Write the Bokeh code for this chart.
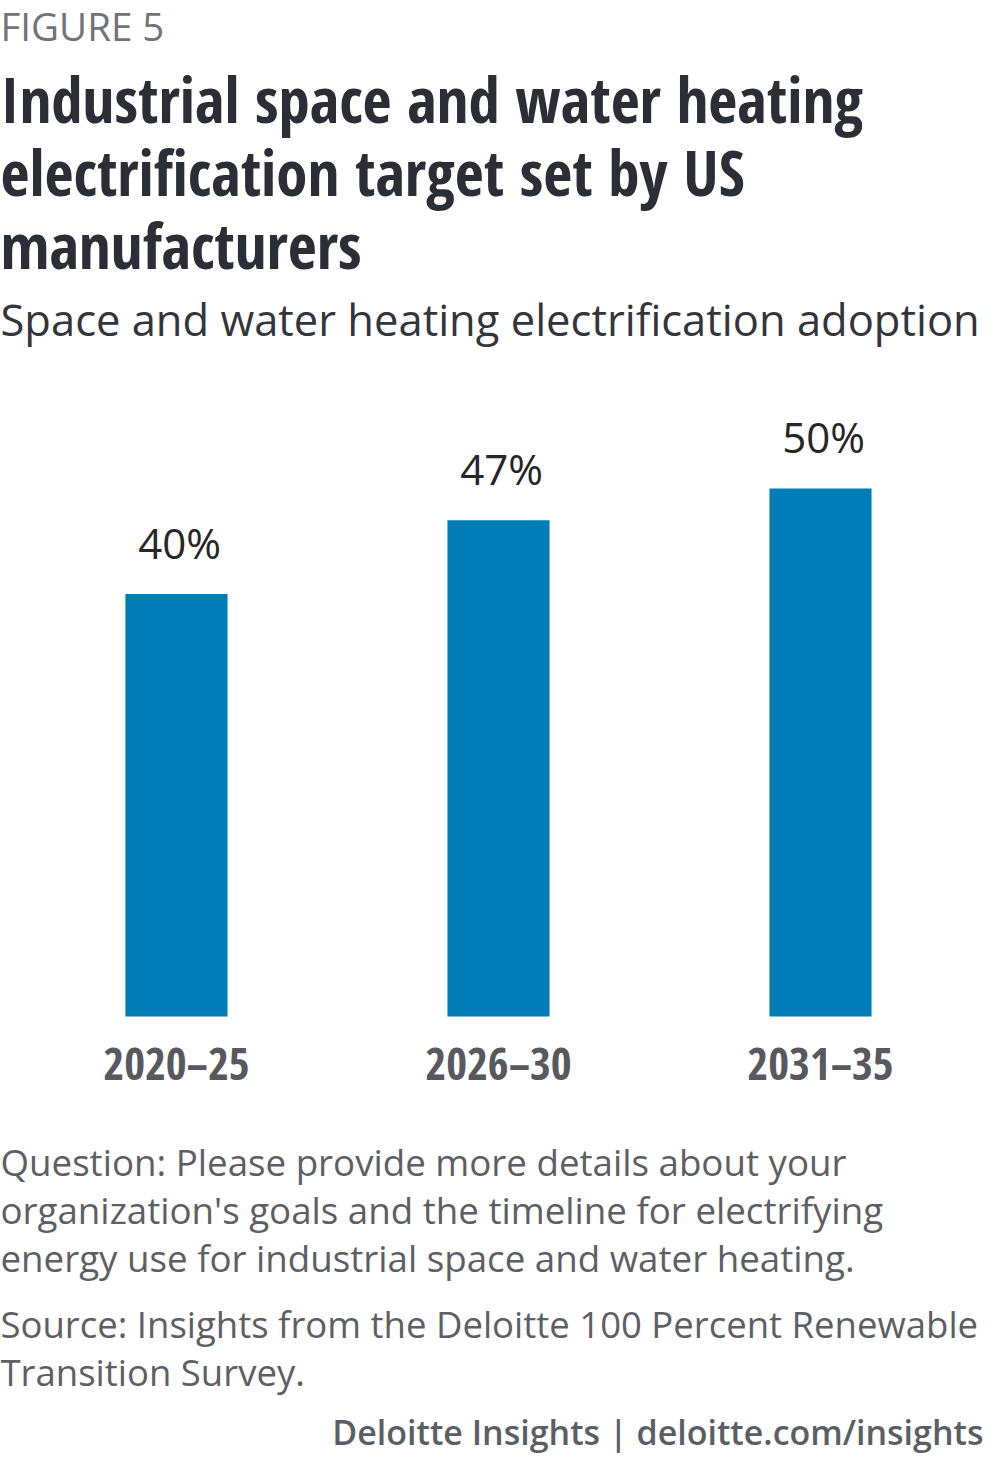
from bokeh.plotting import figure
from bokeh.models import Label, Range1d, FactorRange, ColumnDataSource
from bokeh.core.properties import value
from bokeh.transform import dodge
from bokeh.embed import file_html
from bokeh.resources import INLINE

# ---- data ----
categories = ["2020–25", "2026–30", "2031–35"]
adoption = [40, 47, 50]
value_labels = [f"{v}%" for v in adoption]

figure_label = "FIGURE 5"
title_lines = ["Industrial space and water heating",
               "electrification target set by US",
               "manufacturers"]
subtitle = "Space and water heating electrification adoption"
question_lines = ["Question: Please provide more details about your",
                  "organization's goals and the timeline for electrifying",
                  "energy use for industrial space and water heating."]
source_lines = ["Source: Insights from the Deloitte 100 Percent Renewable",
                "Transition Survey."]
footer = "Deloitte Insights | deloitte.com/insights"

# ---- layout ----
W, H = 984, 1456
PX_PER_UNIT = 10.56          # pixels per percentage point
BASE_Y = 1016                # bar baseline, px from top
BL = 0.43                    # baseline correction (fraction of font size)
y0 = -(H - BASE_Y) / PX_PER_UNIT
y1 = BASE_Y / PX_PER_UNIT

p = figure(width=W, height=H, output_backend="svg", toolbar_location=None,
           x_range=FactorRange(factors=categories, range_padding=0.0186),
           y_range=Range1d(y0, y1), min_border=0,
           x_axis_location=None, y_axis_location=None)
p.outline_line_color = None
p.grid.visible = False
p.background_fill_color = "white"
p.border_fill_color = "white"

src = ColumnDataSource(dict(cat=categories, val=adoption, lab=value_labels))
xc = dodge("cat", 0.0186, range=p.x_range)
p.vbar(x=xc, top="val", bottom=0, width=0.317, source=src,
       fill_color="#007cb8", line_color=None)
p.text(x=dodge("cat", 0.028, range=p.x_range), y="val", text="lab", source=src, text_align="center",
       text_baseline="alphabetic", y_offset=-34 - BL * 42, text_font=value("Open Sans"),
       text_font_size="42px", text_color="#262626")
p.text(x=xc, y=0, text="cat", source=src, text_align="center",
       text_baseline="alphabetic", y_offset=65 - BL * 45, text_font=value("Open Sans Condensed"),
       text_font_style="bold", text_font_size="45px", text_color="#58595e")


def add_text(txt, ref_y, size, color, font="Open Sans", style="normal", align="left", x=0):
    p.add_layout(Label(x=x, y=H - ref_y + BL * size, x_units="screen", y_units="screen",
                       text=txt, text_font=font, text_font_style=style,
                       text_font_size=f"{size}px", text_color=color, text_align=align,
                       text_baseline="alphabetic"))


add_text(figure_label, 42, 38.5, "#707378")
for i, line in enumerate(title_lines):
    add_text(line, 125 + 73 * i, 63, "#2c2e36", font="Open Sans Condensed", style="bold")
add_text(subtitle, 338, 43.5, "#33353c")
for i, line in enumerate(question_lines):
    add_text(line, 1177 + 48 * i, 36.7, "#5d5f64")
for i, line in enumerate(source_lines):
    add_text(line, 1339 + 48 * i, 36.5, "#5d5f64")
add_text(footer, 1446, 34, "#5b5e63", font="Open Sans SemiBold, Open Sans", align="right", x=983)

open("out.html", "w").write(file_html(p, INLINE))
